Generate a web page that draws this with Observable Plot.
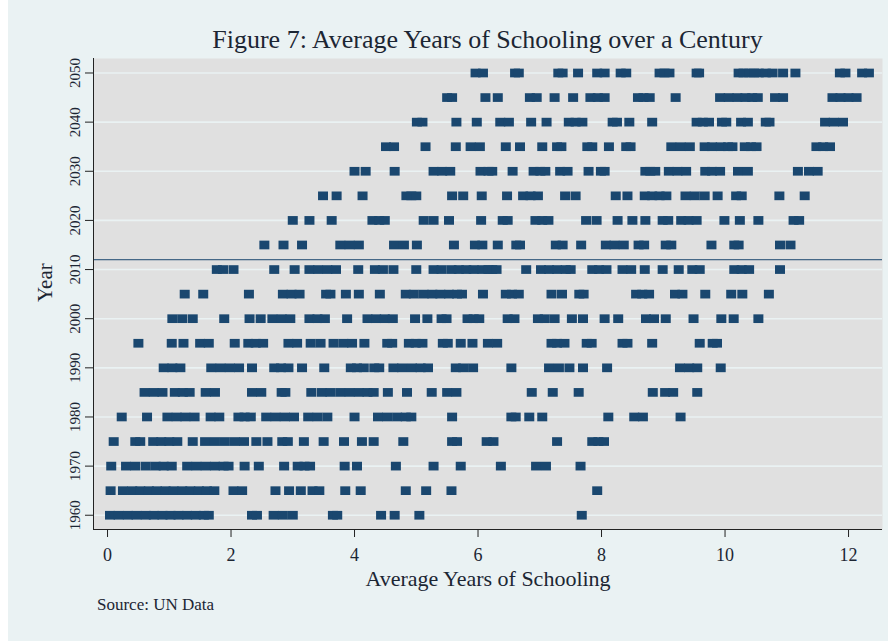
<!DOCTYPE html>
<html>
<head>
<meta charset="utf-8">
<script src="https://cdn.jsdelivr.net/npm/d3@7"></script>
<script src="https://cdn.jsdelivr.net/npm/@observablehq/plot@0.6"></script>
<style>
  html, body { margin: 0; padding: 0; }
  body { width: 888px; height: 641px; background: #ffffff; position: relative; overflow: hidden; font-family: "Liberation Serif", "DejaVu Serif", serif; }
  #bg { position: absolute; left: 8px; top: 0; width: 880px; height: 641px; background: #eaf2f3; }
  #title { position: absolute; left: 93px; width: 789px; top: 26px; text-align: center; font-size: 26px; line-height: 28px; color: #1c2633; }
  #chart { position: absolute; left: 0; top: 55px; }
  #caption { position: absolute; left: 97px; top: 595px; font-size: 17px; line-height: 20px; color: #1c2633; }
</style>
</head>
<body>
<div id="bg"></div>
<div id="title">Figure 7: Average Years of Schooling over a Century</div>
<div id="chart"></div>
<div id="caption">Source: UN Data</div>
<script>
// ---- data (average years of schooling per country, by year) ----
const years = [1960, 1965, 1970, 1975, 1980, 1985, 1990, 1995, 2000, 2005, 2010, 2015, 2020, 2025, 2030, 2035, 2040, 2045, 2050];
const s1960 = [0.04, 0.18, 0.33, 0.47, 0.62, 0.75, 0.89, 1.02, 1.15, 1.29, 1.43, 1.56, 1.64, 2.34, 2.42, 2.69, 2.84, 3.00, 3.65, 3.72, 4.43, 4.65, 5.05, 7.68];
const s1965 = [0.05, 0.25, 0.40, 0.53, 0.67, 0.80, 0.94, 1.07, 1.21, 1.34, 1.48, 1.61, 1.73, 2.04, 2.18, 2.72, 2.94, 3.13, 3.32, 3.43, 3.85, 4.10, 4.83, 5.16, 5.57, 7.93];
const s1970 = [0.06, 0.30, 0.45, 0.62, 0.78, 0.91, 1.04, 1.29, 1.44, 1.59, 1.74, 1.88, 1.96, 2.22, 2.45, 2.86, 3.08, 3.19, 3.28, 3.84, 4.04, 4.67, 5.28, 5.72, 6.37, 6.94, 7.10, 7.66];
const s1975 = [0.10, 0.45, 0.53, 0.74, 0.87, 1.00, 1.13, 1.38, 1.58, 1.74, 1.90, 2.06, 2.21, 2.41, 2.59, 2.83, 2.92, 3.18, 3.50, 3.83, 4.12, 4.31, 4.79, 5.58, 5.66, 6.14, 6.25, 7.28, 7.85, 7.95, 8.04];
const s1980 = [0.23, 0.64, 0.97, 1.12, 1.26, 1.41, 1.67, 1.81, 2.12, 2.22, 2.32, 2.57, 2.72, 2.87, 3.02, 3.25, 3.40, 3.56, 4.00, 4.38, 4.53, 4.69, 4.83, 4.92, 5.58, 6.54, 6.61, 6.83, 7.04, 8.11, 8.53, 8.67, 9.28];
const s1985 = [0.60, 0.75, 0.89, 1.09, 1.22, 1.33, 1.59, 1.74, 2.34, 2.49, 2.82, 2.88, 3.30, 3.47, 3.61, 3.77, 3.92, 4.07, 4.21, 4.31, 4.54, 4.85, 5.25, 5.50, 5.65, 6.87, 7.21, 7.63, 8.83, 9.03, 9.16, 9.55];
const s1990 = [0.91, 1.05, 1.18, 1.68, 1.83, 1.98, 2.13, 2.34, 2.70, 2.81, 2.93, 3.15, 3.51, 3.94, 4.04, 4.15, 4.32, 4.40, 4.63, 4.77, 4.93, 5.07, 5.19, 5.64, 5.76, 5.92, 6.54, 7.15, 7.31, 7.48, 7.70, 8.09, 9.27, 9.42, 9.55, 9.93];
const s1995 = [0.50, 1.04, 1.23, 1.50, 1.64, 2.06, 2.28, 2.40, 2.52, 2.93, 3.07, 3.29, 3.45, 3.66, 3.82, 3.96, 4.16, 4.53, 4.61, 4.88, 4.99, 5.10, 5.43, 5.51, 5.72, 5.91, 6.16, 6.31, 7.19, 7.28, 7.40, 7.76, 7.84, 8.34, 8.42, 8.82, 9.59, 9.80, 9.87];
const s2000 = [1.05, 1.21, 1.38, 1.89, 2.30, 2.48, 2.67, 2.82, 2.96, 3.27, 3.40, 3.52, 3.88, 4.21, 4.35, 4.49, 4.62, 4.98, 5.18, 5.41, 5.49, 5.83, 5.93, 6.02, 6.48, 6.59, 6.97, 7.08, 7.24, 7.52, 7.70, 8.05, 8.27, 8.72, 8.85, 9.04, 9.49, 9.94, 10.14, 10.54];
const s2005 = [1.25, 1.55, 2.29, 2.84, 2.98, 3.11, 3.54, 3.61, 3.86, 4.07, 4.41, 4.83, 4.96, 5.12, 5.26, 5.39, 5.53, 5.66, 5.74, 6.08, 6.45, 6.55, 6.66, 7.19, 7.36, 7.64, 7.71, 8.56, 8.66, 8.77, 9.19, 9.31, 9.68, 10.10, 10.28, 10.71];
const s2010 = [1.77, 1.87, 2.04, 2.70, 3.03, 3.27, 3.41, 3.56, 3.70, 4.06, 4.33, 4.46, 4.63, 5.00, 5.28, 5.41, 5.57, 5.69, 5.81, 5.93, 6.07, 6.17, 6.23, 6.30, 6.78, 7.02, 7.15, 7.28, 7.42, 7.50, 7.85, 7.96, 8.08, 8.34, 8.48, 8.70, 8.99, 9.25, 9.47, 9.59, 10.15, 10.27, 10.39, 10.89];
const s2015 = [2.54, 2.85, 3.15, 3.77, 3.92, 4.07, 4.64, 4.80, 5.01, 5.61, 5.95, 6.07, 6.32, 6.62, 6.68, 7.26, 7.37, 7.67, 8.07, 8.21, 8.36, 8.60, 8.69, 9.04, 9.13, 9.78, 10.15, 10.22, 10.89, 11.06];
const s2020 = [3.00, 3.27, 3.63, 4.29, 4.40, 4.49, 5.12, 5.28, 5.53, 6.05, 6.40, 6.48, 6.93, 7.04, 7.14, 7.75, 7.92, 8.26, 8.50, 8.71, 8.99, 9.08, 9.29, 9.41, 9.54, 9.99, 10.24, 10.54, 11.11, 11.20];
const s2025 = [3.49, 3.71, 4.13, 4.84, 4.92, 5.00, 5.58, 5.76, 6.06, 6.47, 6.73, 6.85, 6.97, 7.41, 7.58, 8.23, 8.42, 8.70, 8.82, 8.94, 9.05, 9.36, 9.51, 9.67, 9.88, 10.18, 10.27, 10.88, 11.29];
const s2030 = [4.00, 4.18, 4.65, 5.28, 5.42, 5.55, 6.04, 6.17, 6.23, 6.56, 6.90, 7.01, 7.09, 7.33, 7.45, 7.79, 7.99, 8.05, 8.71, 8.79, 8.87, 9.09, 9.23, 9.37, 9.68, 9.79, 9.92, 10.21, 10.37, 11.18, 11.36, 11.50];
const s2035 = [4.51, 4.64, 5.15, 5.64, 5.88, 6.03, 6.45, 6.68, 7.04, 7.28, 7.35, 7.77, 7.85, 8.12, 8.40, 8.47, 9.13, 9.28, 9.43, 9.67, 9.79, 9.93, 10.05, 10.12, 10.32, 10.42, 10.51, 11.48, 11.59, 11.70];
const s2040 = [5.01, 5.10, 5.65, 5.98, 6.36, 6.50, 6.86, 7.11, 7.47, 7.58, 7.69, 8.18, 8.25, 8.45, 8.82, 9.54, 9.64, 9.74, 9.95, 10.02, 10.26, 10.37, 10.66, 10.72, 11.62, 11.76, 11.91];
const s2045 = [5.50, 5.58, 6.12, 6.32, 6.84, 6.95, 7.24, 7.54, 7.82, 7.94, 8.05, 8.59, 8.68, 8.78, 9.20, 9.92, 10.06, 10.20, 10.33, 10.44, 10.53, 10.81, 10.94, 11.74, 11.87, 12.00, 12.13];
const s2050 = [5.96, 6.08, 6.60, 6.66, 7.30, 7.37, 7.62, 7.93, 8.05, 8.31, 8.40, 8.94, 9.02, 9.10, 9.54, 9.58, 10.22, 10.30, 10.39, 10.47, 10.55, 10.66, 10.77, 10.94, 11.14, 11.86, 11.95, 12.22, 12.33];
const xTicks = [0, 2, 4, 6, 8, 10, 12];
const yTicks = [1960, 1970, 1980, 1990, 2000, 2010, 2020, 2030, 2040, 2050];
const refYear = 2012;
const xDomain = [-0.227, 12.55];
const yDomain = [1957.1, 2052.95];

// ---- build table ----
const series = [s1960, s1965, s1970, s1975, s1980, s1985, s1990, s1995, s2000, s2005, s2010, s2015, s2020, s2025, s2030, s2035, s2040, s2045, s2050];
const data = [];
years.forEach((yr, i) => series[i].forEach(v => data.push({year: yr, schooling: v})));

const navy = "#1a476f";
const rectSymbol = {
  draw(context, size) {
    const r = Math.sqrt(size / Math.PI);
    const w = r, h = r * 0.87;
    context.moveTo(-w, -h);
    context.lineTo(w, -h);
    context.lineTo(w, h);
    context.lineTo(-w, h);
    context.closePath();
  }
};

const chart = Plot.plot({
  width: 888,
  height: 545,
  marginLeft: 93,
  marginRight: 6,
  marginTop: 3,
  marginBottom: 71,
  style: {background: "transparent", fontFamily: "Liberation Serif, DejaVu Serif, serif", color: "#1c2633"},
  x: {domain: xDomain},
  y: {domain: yDomain},
  marks: [
    Plot.frame({fill: "#e0e0e0", stroke: null}),
    Plot.gridY(yTicks, {stroke: "#eaf2f3", strokeOpacity: 1, strokeWidth: 1.6}),
    Plot.dot(data, {x: "schooling", y: "year", r: 5, symbol: rectSymbol, fill: navy, stroke: "none"}),
    Plot.ruleY([refYear], {stroke: navy, strokeWidth: 1}),
    Plot.ruleX([xDomain[0]], {stroke: "#222", strokeWidth: 1}),
    Plot.ruleY([yDomain[0]], {stroke: "#222", strokeWidth: 1}),
    Plot.axisX({ticks: xTicks, tickSize: 8, tickPadding: 11, fontSize: 18, label: null, stroke: "#222"}),
    Plot.axisY({ticks: yTicks, tickSize: 8, tickPadding: 6, tickRotate: -90, fontSize: 15, label: null, tickFormat: d => String(d), stroke: "#222"}),
    Plot.text(["Average Years of Schooling"], {frameAnchor: "bottom", dy: 56, fontSize: 22, fill: "#1c2633"}),
    Plot.text(["Year"], {frameAnchor: "left", dx: -48, dy: 8, rotate: -90, fontSize: 21, fill: "#1c2633"})
  ]
});
document.getElementById("chart").appendChild(chart);
</script>
</body>
</html>
